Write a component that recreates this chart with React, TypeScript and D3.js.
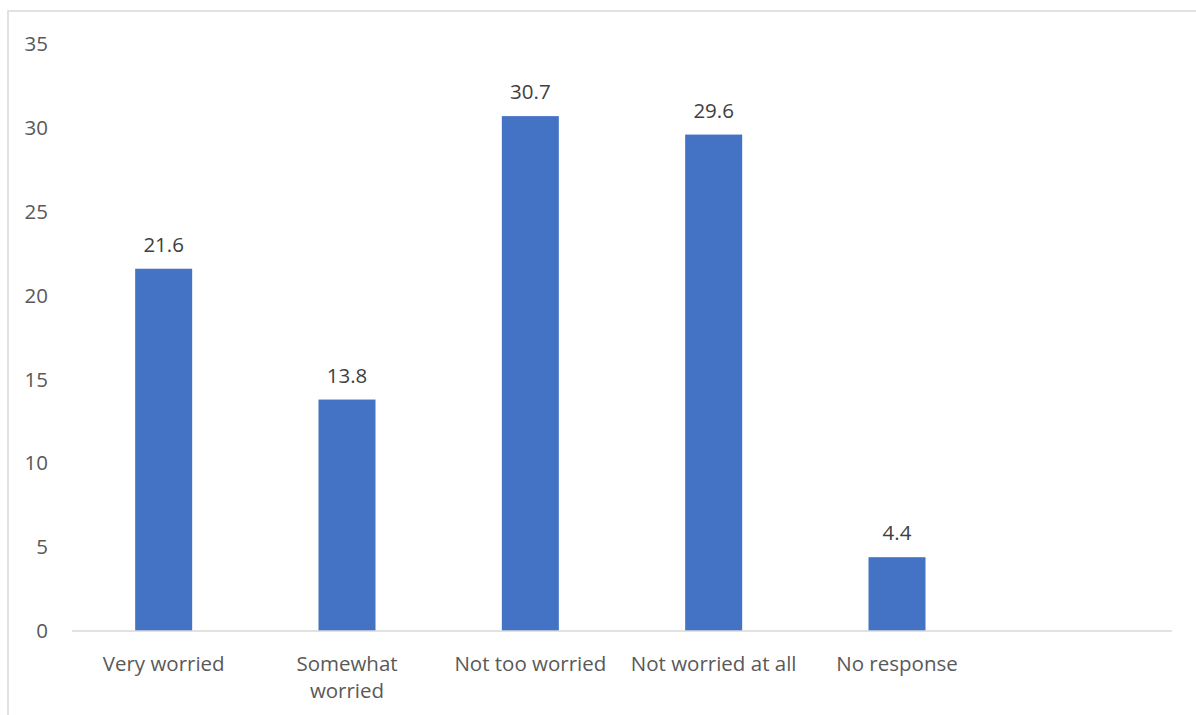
import React from "react";
import * as d3 from "d3";

const categories = ["Very worried", "Somewhat worried", "Not too worried", "Not worried at all", "No response", ""];
const values = [21.6, 13.8, 30.7, 29.6, 4.4];
const yTicks = [0, 5, 10, 15, 20, 25, 30, 35];
const labelLines: string[][] = [["Very worried"], ["Somewhat", "worried"], ["Not too worried"], ["Not worried at all"], ["No response"], []];

const W = 1196;
const H = 715;
const FONT = "'Open Sans', Lato, sans-serif";
const FS = 20.5;

export default function App() {
  const x = d3.scaleBand<string>().domain(categories.map((c, i) => String(i))).range([72, 1172]).paddingInner(0).paddingOuter(0);
  const y = d3.scaleLinear().domain([0, 35]).range([631, 44]);
  const barW = 57;

  return (
    <svg width={W} height={H} style={{ position: "absolute", left: 0, top: 0 }} fontFamily={FONT}>
      <rect x={0} y={0} width={W} height={H} fill="#fff" />
      <rect x={8} y={11} width={W + 20} height={H + 20} fill="none" stroke="#d9d9d9" strokeWidth={1.5} />
      {yTicks.map((t) => (
        <text key={t} x={48} y={y(t)} dy="0.35em" textAnchor="end" fontSize={FS} fill="#595959">
          {t}
        </text>
      ))}
      {values.map((v, i) => {
        const cx = (x(String(i)) as number) + x.bandwidth() / 2;
        return (
          <g key={i}>
            <rect x={cx - barW / 2} y={y(v)} width={barW} height={y(0) - y(v)} fill="#4472c4" />
            <text x={cx} y={y(v) - 17} textAnchor="middle" fontSize={FS} fill="#404040">
              {v.toFixed(1)}
            </text>
          </g>
        );
      })}
      <line x1={72} x2={1172} y1={y(0)} y2={y(0)} stroke="#d9d9d9" strokeWidth={1.5} />
      {labelLines.map((lines, i) => {
        const cx = (x(String(i)) as number) + x.bandwidth() / 2;
        return lines.map((ln, j) => (
          <text key={i + "-" + j} x={cx} y={671 + j * 27} textAnchor="middle" fontSize={FS} fill="#595959">
            {ln}
          </text>
        ));
      })}
    </svg>
  );
}
